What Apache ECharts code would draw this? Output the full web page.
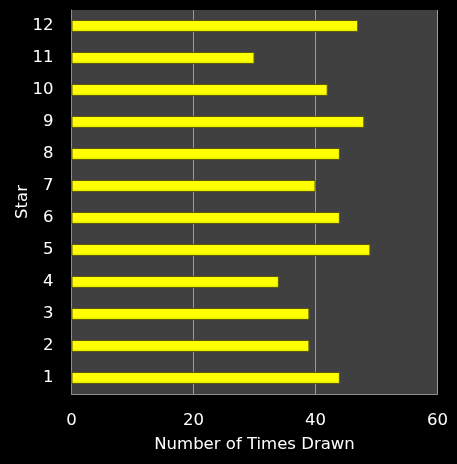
<!DOCTYPE html>
<html lang="en">
<head>
    <meta charset="UTF-8">
    <title>Star</title>
    <style>
        * {
            margin: 0;
            padding: 0;
        }

        html, body {
            background: #000;
        }

        #chart {
            width: 457px;
            height: 464px;
        }
    </style>
</head>
<body>
    <div id="chart"></div>
    <script src="https://cdn.jsdelivr.net/npm/echarts@6/dist/echarts.min.js"></script>
    <script>
        var stars = ["1", "2", "3", "4", "5", "6", "7", "8", "9", "10", "11", "12"];
        var timesDrawn = [44, 39, 39, 34, 49, 44, 40, 44, 48, 42, 30, 47];
        var xTicks = [0, 20, 40, 60];

        var font = "DejaVu Sans";
        var chart = echarts.init(document.getElementById("chart"));

        var option = {
            backgroundColor: "#000",
            animation: false,
            grid: {
                left: 71.5,
                right: 19.5,
                top: 10,
                bottom: 70,
                outerBoundsMode: "none",
                containLabel: false,
                show: true,
                backgroundColor: "#404040",
                borderColor: "#8c8c8c",
                borderWidth: 0
            },
            xAxis: {
                type: "value",
                min: xTicks[0],
                max: xTicks[xTicks.length - 1],
                interval: 20,
                name: "Number of Times Drawn",
                nameLocation: "middle",
                nameGap: 42,
                nameMoveOverlap: false,
                nameTextStyle: { color: "#fff", fontFamily: font, fontSize: 16.5 },
                axisLine: { show: true, lineStyle: { color: "#8c8c8c", width: 1 } },
                axisTick: { show: false },
                axisLabel: { color: "#fff", fontFamily: font, fontSize: 16.5, margin: 18 },
                splitLine: { show: true, lineStyle: { color: "#9a9a9a", width: 1 } }
            },
            yAxis: {
                type: "category",
                data: stars,
                name: "Star",
                nameLocation: "middle",
                nameGap: 40,
                nameMoveOverlap: false,
                nameTextStyle: { color: "#fff", fontFamily: font, fontSize: 16.5 },
                axisLine: { show: true, lineStyle: { color: "#8c8c8c", width: 1 } },
                axisTick: { show: false },
                axisLabel: { color: "#fff", fontFamily: font, fontSize: 16.5, margin: 18 },
                splitLine: { show: false }
            },
            series: [
                {
                    type: "bar",
                    data: timesDrawn,
                    barWidth: 12,
                    itemStyle: {
                        color: {
                            type: "linear",
                            x: 0, y: 0, x2: 0, y2: 1,
                            colorStops: [
                                { offset: 0, color: "#ffff00" },
                                { offset: 0.75, color: "#ffff00" },
                                { offset: 1, color: "#d8d800" }
                            ]
                        },
                        borderColor: "#5a5a10",
                        borderWidth: 1
                    }
                }
            ]
        };

        chart.setOption(option);
    </script>
</body>
</html>
